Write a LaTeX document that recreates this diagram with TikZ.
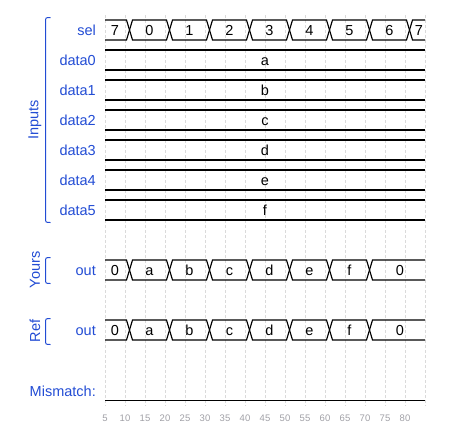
\documentclass[tikz,border=0pt]{standalone}
\usepackage{fontspec}
\setmainfont{Liberation Sans}
\definecolor{lblue}{RGB}{34,76,212}
\definecolor{gridc}{RGB}{218,218,218}
\definecolor{axisc}{RGB}{160,160,166}
\tikzset{
  lbl/.style={anchor=base east, inner sep=0pt, text=lblue, font=\fontsize{14.5}{17}\selectfont},
  grp/.style={rotate=90, inner sep=0pt, text=lblue, font=\fontsize{14.5}{17}\selectfont},
  brk/.style={draw=lblue, line width=1pt},
  val/.style={anchor=base, inner sep=0pt, font=\fontsize{14.5}{17}\selectfont},
  axlbl/.style={anchor=base, inner sep=0pt, text=axisc, font=\fontsize{9.5}{11}\selectfont},
  wave/.style={draw=black, line width=1.15pt, line join=miter},
  gridline/.style={draw=gridc, line width=0.8pt, dash pattern=on 2.5pt off 2.5pt}
}
\begin{document}
\begin{tikzpicture}[x=1pt,y=-1pt]
\useasboundingbox (0,0) rectangle (449,440);
% grid
\foreach \k in {0,...,16} \draw[gridline] (105+20*\k,15) -- (105+20*\k,406);
% axis labels
\foreach \k [evaluate=\k as \v using int(5+5*\k)] in {0,...,15}
  \node[axlbl] (ax\k) at (105+20*\k,421) {\v};
% group labels and brackets
\node[grp] (ginputs) at (35,120) {Inputs};
\draw[brk] (50.5,17.5) .. controls (45.5,17.5) .. (45.5,22.5) -- (45.5,217.5) .. controls (45.5,222.5) .. (50.5,222.5);
\node[grp] (gyours) at (35,270) {Yours};
\draw[brk] (50.5,257.5) .. controls (45.5,257.5) .. (45.5,262.5) -- (45.5,278.5) .. controls (45.5,283.5) .. (50.5,283.5);
\node[grp] (gref) at (35,331) {Ref};
\draw[brk] (50.5,318.5) .. controls (45.5,318.5) .. (45.5,323.5) -- (45.5,339.5) .. controls (45.5,344.5) .. (50.5,344.5);
% row labels
\node[lbl] (lsel) at (96,35.5) {sel};
\foreach \i in {0,...,5} \node[lbl] (ld\i) at (96,65.5+30*\i) {data\i};
\node[lbl] (lyo) at (96,275.5) {out};
\node[lbl] (lro) at (96,335.5) {out};
\node[lbl] (lmm) at (96,396) {Mismatch:};
% sel bus
\draw[wave] (105,20) -- (126.5,20) -- (129.5,30) -- (126.5,40) -- (105,40);
\foreach \k in {0,...,6}
  \draw[wave] (129.5+40*\k,30) -- (132.5+40*\k,20) -- (166.5+40*\k,20) -- (169.5+40*\k,30) -- (166.5+40*\k,40) -- (132.5+40*\k,40) -- cycle;
\draw[wave] (425,20) -- (412.5,20) -- (409.5,30) -- (412.5,40) -- (425,40);
\node[val] (s0) at (115,35.5) {7};
\foreach \k in {0,...,6} \node[val] (s\k x) at (149.5+40*\k,35.5) {\k};
\node[val] (slast) at (419,35.5) {7};
% data rows
\foreach \i/\t in {0/a,1/b,2/c,3/d,4/e,5/f} {
  \draw[wave] (105,50+30*\i) -- (425,50+30*\i);
  \draw[wave] (105,70+30*\i) -- (425,70+30*\i);
  \node[val] (dv\i) at (265,65.5+30*\i) {\t};
}
% out rows
\foreach \y/\n in {260/y,320/r} {
  \draw[wave] (105,\y) -- (126.5,\y) -- (129.5,\y+10) -- (126.5,\y+20) -- (105,\y+20);
  \foreach \k in {0,...,5}
    \draw[wave] (129.5+40*\k,\y+10) -- (132.5+40*\k,\y) -- (166.5+40*\k,\y) -- (169.5+40*\k,\y+10) -- (166.5+40*\k,\y+20) -- (132.5+40*\k,\y+20) -- cycle;
  \draw[wave] (425,\y) -- (372.5,\y) -- (369.5,\y+10) -- (372.5,\y+20) -- (425,\y+20);
  \node[val] (o\n0) at (115,\y+15.5) {0};
  \foreach \k/\t in {0/a,1/b,2/c,3/d,4/e,5/f}
    \node[val] (o\n\k x) at (149.5+40*\k,\y+15.5) {\t};
  \node[val] (o\n last) at (400,\y+15.5) {0};
}
% mismatch
\draw[wave] (105,400.5) -- (425,400.5);
\end{tikzpicture}
\end{document}
